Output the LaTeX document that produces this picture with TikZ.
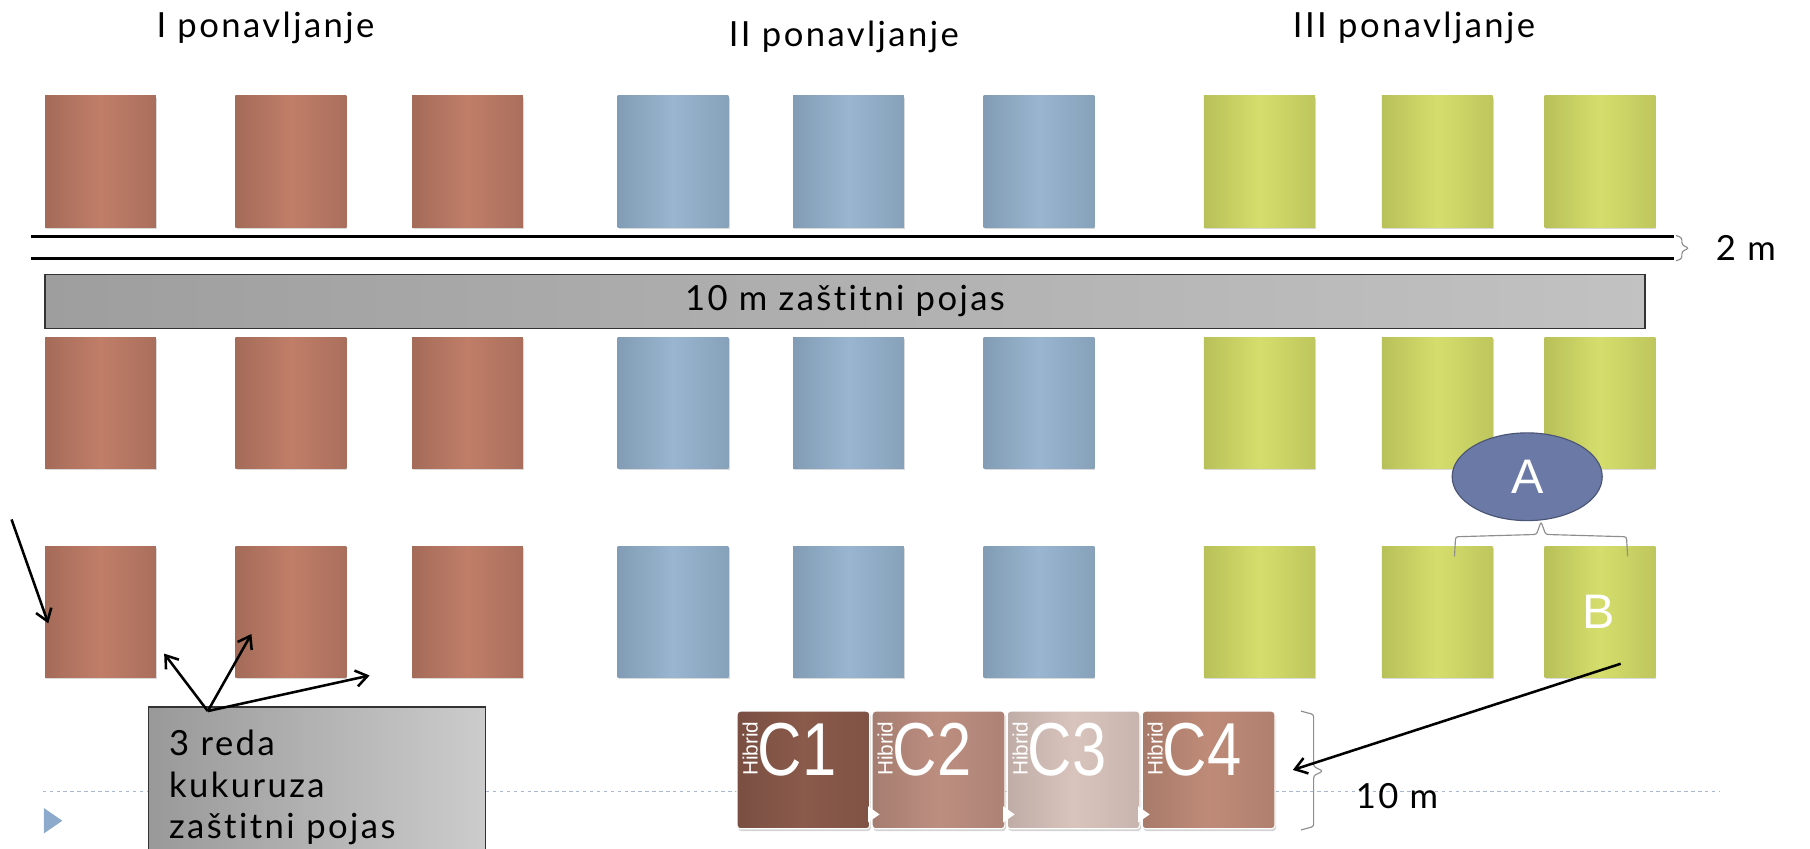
\documentclass[tikz,border=0pt]{standalone}
\usepackage{fontspec}
\setmainfont{Lato}[LetterSpace=7, Ligatures=NoCommon]
\newfontfamily\arialfont{Liberation Sans}
\usepackage{tikz}
\usetikzlibrary{arrows.meta, shapes.geometric, shadows}
\definecolor{brownmid}{HTML}{C07E68}
\definecolor{brownedge}{HTML}{A46B59}
\definecolor{bluemid}{HTML}{99B5CF}
\definecolor{blueedge}{HTML}{829CB5}
\definecolor{greenmid}{HTML}{D5DE6C}
\definecolor{greenedge}{HTML}{B8C059}
\definecolor{ovalblue}{HTML}{6B79A6}
\definecolor{bulletblue}{HTML}{8DA9CB}
\definecolor{dashblue}{HTML}{A9B7CC}
\definecolor{bracegray}{HTML}{8E8E8E}
\definecolor{hyb1}{HTML}{8A5A4B}
\definecolor{hyb2}{HTML}{BC8E80}
\definecolor{hyb3}{HTML}{D9C4BD}
\definecolor{hyb4}{HTML}{BF8B78}
\tikzset{
    parcel/.style={rectangle, minimum width=96pt, minimum height=114pt, inner sep=0pt,
        drop shadow={opacity=0.3, shadow xshift=1pt, shadow yshift=-1.5pt}}, % jedna parcela
    brown parcel/.style={parcel, left color=brownedge, right color=brownedge!80!brownmid, middle color=brownmid},
    blue parcel/.style={parcel, left color=blueedge, right color=blueedge!80!bluemid, middle color=bluemid},
    green parcel/.style={parcel, left color=greenedge, right color=greenedge!80!greenmid, middle color=greenmid},
    hybrid/.style={rectangle, rounded corners=3pt, minimum width=115pt, minimum height=102pt, inner sep=0pt,
        draw=white, line width=1pt, drop shadow={opacity=0.35, shadow xshift=1pt, shadow yshift=-2pt}}, % blok hibrida
    hyb text/.style={text=white, inner sep=0pt, font=\arialfont},
    brace/.style={bracegray, line width=1pt, rounded corners=2pt}, % zagrada
    pointer/.style={-{Straight Barb[length=10pt, width=14pt]}, line width=2.2pt} % strelica
}

\begin{document}
\begin{tikzpicture}[x=1pt, y=-1pt, font=\fontsize{30}{36}\selectfont]
    \useasboundingbox (0,0) rectangle (1568,735);
    \clip (0,0) rectangle (1568,735);

    \node (n1) at (230,24) {I ponavljanje};
    \node (n2) at (731,32) {II ponavljanje};
    \node (n3) at (1225,24) {III ponavljanje};

    % parcele, tri reda
    \foreach \r/\y in {1/140,2/349,3/530}{
        \foreach \c/\x in {1/87,2/252,3/405} \node[brown parcel] (p\r\c) at (\x,\y) {};
        \foreach \c/\x in {4/583,5/735,6/900} \node[blue parcel] (p\r\c) at (\x,\y) {};
        \foreach \c/\x in {7/1091,8/1245,9/1386} \node[green parcel] (p\r\c) at (\x,\y) {};
    }

    \draw[line width=2pt] (27,205) -- (1450,205);
    \draw[line width=2pt] (27,224) -- (1450,224);
    \draw[brace] (1452,204) -- (1457,206) -- (1457,212) -- (1463,215) -- (1457,218) -- (1457,224) -- (1452,226);
    \node[anchor=west] (dva) at (1483,215) {2 m};

    \node[rectangle, minimum width=1386pt, minimum height=47pt, draw=black!80, line width=1pt,
        left color=black!38, right color=black!24] (pojas) at (732,261) {10 m zaštitni pojas};

    \node[ellipse, fill=ovalblue, draw=ovalblue!70!black, line width=1pt, minimum width=130pt, minimum height=76pt,
        inner sep=0pt, text=white, font=\arialfont\fontsize{42}{42}\selectfont] (A) at (1323,413) {A};
    \draw[brace] (1260,482) -- (1261,465) -- (1331,463) -- (1335,452) -- (1339,463) -- (1409,465) -- (1410,482);
    \node[text=white, font=\arialfont\fontsize{42}{42}\selectfont] (B) at (1385,530) {B};

    \draw[dashblue, dashed, line width=1pt] (37,686) -- (1490,686);
    \fill[bulletblue] (38,700) -- (54,711) -- (38,722) -- cycle;

    % hibridi C1--C4
    \foreach \i/\x in {1/696,2/813,3/930,4/1047}{
        \node[hybrid, left color=hyb\i!88!black, right color=hyb\i!92!black, middle color=hyb\i] (h\i) at (\x,667) {};
        \node[hyb text, anchor=base west] (ht\i) at ([xshift=5pt,yshift=-5pt]h\i.west)
            {\rotatebox{90}{\fontsize{18}{18}\selectfont Hibrid}\scalebox{0.82}[1]{\fontsize{65}{65}\selectfont C\i}};
    }
    \foreach \i in {1,2,3}
        \fill[white] ([xshift=-2pt,yshift=6pt]h\i.south east) -- ++(10,-7) -- ++(-10,-7) -- cycle;
    \draw[brace] (1127,616) -- (1138,619) -- (1138,664) -- (1146,668) -- (1138,672) -- (1138,716) -- (1127,719);
    \node[anchor=west] (deset) at (1171,690) {10 m};

    \coordinate (bkraj) at ([xshift=19pt,yshift=-45pt]B.center);
    \draw[pointer] (bkraj) -- ([xshift=15pt]h4.east);

    \node[rectangle, anchor=north west, minimum width=292pt, minimum height=140pt, text width=256pt, align=left,
        inner xsep=18pt, draw=black!80, line width=1pt, left color=black!40, right color=black!20]
        (kutija) at (128,612) {3 reda\\kukuruza\\zaštitni pojas};

    \coordinate (izvor) at ([xshift=52pt,yshift=-4pt]kutija.north west);
    \coordinate (m1) at ([xshift=7pt,yshift=21pt]p31.south east);
    \coordinate (m2) at ([xshift=14pt,yshift=38pt]p32.south west);
    \coordinate (m3) at ([xshift=20pt,yshift=2pt]p32.south east);
    \foreach \m in {m1,m2,m3} \draw[pointer] (izvor) -- (\m);
    \coordinate (s0) at (10,450);
    \draw[pointer] (s0) -- ([xshift=3pt,yshift=-10pt]p31.west);
\end{tikzpicture}
\end{document}
